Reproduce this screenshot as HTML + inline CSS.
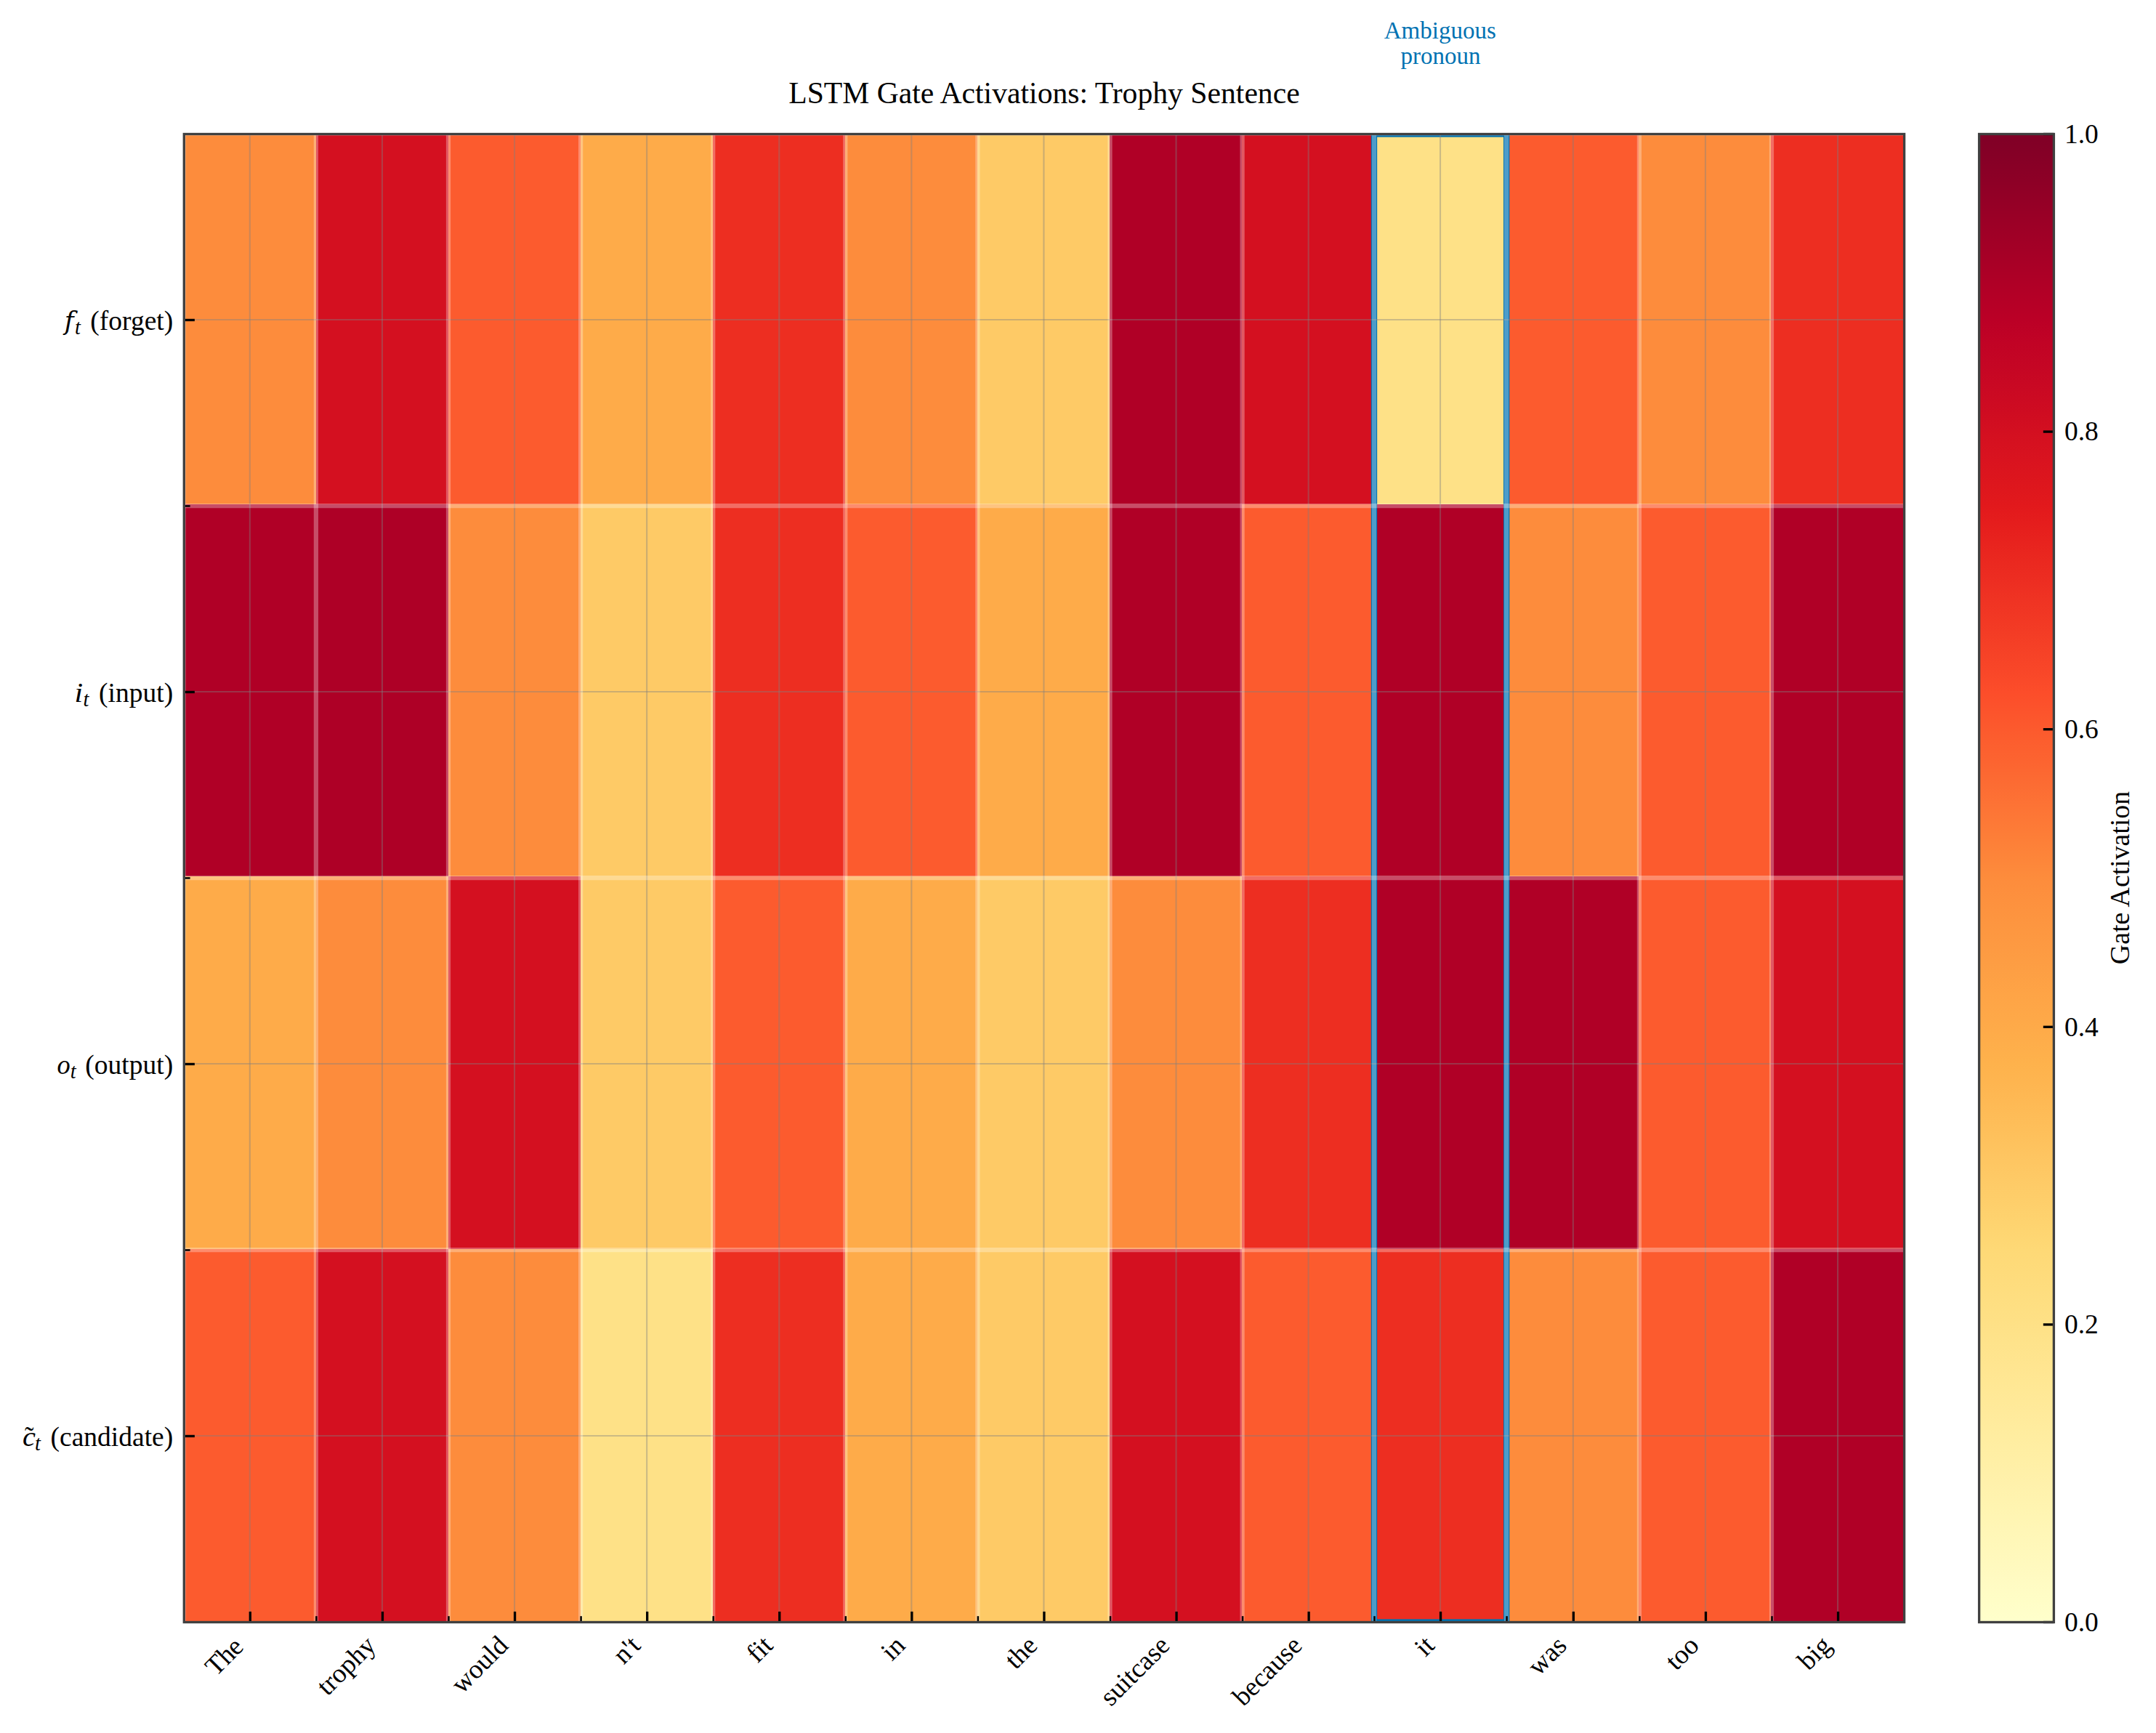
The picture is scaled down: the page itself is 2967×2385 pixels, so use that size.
<!DOCTYPE html>
<html lang="en"><head><meta charset="utf-8"><title>LSTM Gate Activations: Trophy Sentence</title>
<style>html,body{margin:0;padding:0;background:#fff}body{width:2967px;height:2385px;overflow:hidden}svg{display:block}text{font-family:"Liberation Serif","Times New Roman",Times,serif;fill:#000}.b text,text.b{fill:#0072B2}.it{font-style:italic}</style>
</head><body>
<svg width="2967" height="2385" viewBox="0 0 2967 2385">
<defs>
<clipPath id="ax"><rect x="253.30" y="184.50" width="2367.30" height="2048.00"/></clipPath>
<linearGradient id="g" x1="0" y1="0" x2="0" y2="1">
<stop offset="0.0000" stop-color="#800026"/>
<stop offset="0.0156" stop-color="#860026"/>
<stop offset="0.0312" stop-color="#8d0026"/>
<stop offset="0.0469" stop-color="#950026"/>
<stop offset="0.0625" stop-color="#9d0026"/>
<stop offset="0.0781" stop-color="#a40026"/>
<stop offset="0.0938" stop-color="#ac0026"/>
<stop offset="0.1094" stop-color="#b40026"/>
<stop offset="0.1250" stop-color="#bb0026"/>
<stop offset="0.1406" stop-color="#c10325"/>
<stop offset="0.1562" stop-color="#c50624"/>
<stop offset="0.1719" stop-color="#ca0923"/>
<stop offset="0.1875" stop-color="#cf0c21"/>
<stop offset="0.2031" stop-color="#d41020"/>
<stop offset="0.2188" stop-color="#d9131f"/>
<stop offset="0.2344" stop-color="#dd161d"/>
<stop offset="0.2500" stop-color="#e2191c"/>
<stop offset="0.2656" stop-color="#e61f1d"/>
<stop offset="0.2812" stop-color="#e9261f"/>
<stop offset="0.2969" stop-color="#ec2c21"/>
<stop offset="0.3125" stop-color="#ef3323"/>
<stop offset="0.3281" stop-color="#f23924"/>
<stop offset="0.3438" stop-color="#f54026"/>
<stop offset="0.3594" stop-color="#f84628"/>
<stop offset="0.3750" stop-color="#fc4d2a"/>
<stop offset="0.3906" stop-color="#fc552c"/>
<stop offset="0.4062" stop-color="#fc5d2e"/>
<stop offset="0.4219" stop-color="#fc6430"/>
<stop offset="0.4375" stop-color="#fc6c33"/>
<stop offset="0.4531" stop-color="#fd7435"/>
<stop offset="0.4688" stop-color="#fd7c37"/>
<stop offset="0.4844" stop-color="#fd8439"/>
<stop offset="0.5000" stop-color="#fd8c3c"/>
<stop offset="0.5156" stop-color="#fd913e"/>
<stop offset="0.5312" stop-color="#fd9640"/>
<stop offset="0.5469" stop-color="#fd9a42"/>
<stop offset="0.5625" stop-color="#fd9f44"/>
<stop offset="0.5781" stop-color="#fea446"/>
<stop offset="0.5938" stop-color="#fea848"/>
<stop offset="0.6094" stop-color="#fead4a"/>
<stop offset="0.6250" stop-color="#feb24c"/>
<stop offset="0.6406" stop-color="#feb651"/>
<stop offset="0.6562" stop-color="#febb56"/>
<stop offset="0.6719" stop-color="#fec05b"/>
<stop offset="0.6875" stop-color="#fec561"/>
<stop offset="0.7031" stop-color="#feca66"/>
<stop offset="0.7188" stop-color="#fecf6b"/>
<stop offset="0.7344" stop-color="#fed470"/>
<stop offset="0.7500" stop-color="#fed976"/>
<stop offset="0.7656" stop-color="#fedb7b"/>
<stop offset="0.7812" stop-color="#fede80"/>
<stop offset="0.7969" stop-color="#fee085"/>
<stop offset="0.8125" stop-color="#fee38b"/>
<stop offset="0.8281" stop-color="#ffe590"/>
<stop offset="0.8438" stop-color="#ffe895"/>
<stop offset="0.8594" stop-color="#ffea9b"/>
<stop offset="0.8750" stop-color="#ffeda0"/>
<stop offset="0.8906" stop-color="#ffefa5"/>
<stop offset="0.9062" stop-color="#fff1ab"/>
<stop offset="0.9219" stop-color="#fff4b0"/>
<stop offset="0.9375" stop-color="#fff6b6"/>
<stop offset="0.9531" stop-color="#fff8bb"/>
<stop offset="0.9688" stop-color="#fffac1"/>
<stop offset="0.9844" stop-color="#fffdc6"/>
<stop offset="1.0000" stop-color="#ffffcc"/>
</linearGradient>
</defs>
<rect width="2967" height="2385" fill="#fff"/>
<g shape-rendering="crispEdges">
<rect x="253.30" y="184.50" width="182.28" height="510.30" fill="#fd8c3c"/>
<rect x="434.98" y="184.50" width="182.58" height="510.30" fill="#d41020"/>
<rect x="616.96" y="184.50" width="182.58" height="510.30" fill="#fc5b2e"/>
<rect x="798.94" y="184.50" width="182.58" height="510.30" fill="#feab49"/>
<rect x="980.92" y="184.50" width="182.58" height="510.30" fill="#ed2e21"/>
<rect x="1162.90" y="184.50" width="182.58" height="510.30" fill="#fd8c3c"/>
<rect x="1344.88" y="184.50" width="182.58" height="510.30" fill="#feca66"/>
<rect x="1526.86" y="184.50" width="182.58" height="510.30" fill="#b00026"/>
<rect x="1708.84" y="184.50" width="182.58" height="510.30" fill="#d41020"/>
<rect x="1890.82" y="184.50" width="182.58" height="510.30" fill="#fee187"/>
<rect x="2072.80" y="184.50" width="182.58" height="510.30" fill="#fc5b2e"/>
<rect x="2254.78" y="184.50" width="182.58" height="510.30" fill="#fd8c3c"/>
<rect x="2436.76" y="184.50" width="184.44" height="510.30" fill="#ed2e21"/>
<rect x="253.30" y="694.20" width="182.28" height="512.40" fill="#b00026"/>
<rect x="434.98" y="694.20" width="182.58" height="512.40" fill="#ae0026"/>
<rect x="616.96" y="694.20" width="182.58" height="512.40" fill="#fd8c3c"/>
<rect x="798.94" y="694.20" width="182.58" height="512.40" fill="#feca66"/>
<rect x="980.92" y="694.20" width="182.58" height="512.40" fill="#ed2e21"/>
<rect x="1162.90" y="694.20" width="182.58" height="512.40" fill="#fc5b2e"/>
<rect x="1344.88" y="694.20" width="182.58" height="512.40" fill="#feab49"/>
<rect x="1526.86" y="694.20" width="182.58" height="512.40" fill="#b00026"/>
<rect x="1708.84" y="694.20" width="182.58" height="512.40" fill="#fc5b2e"/>
<rect x="1890.82" y="694.20" width="182.58" height="512.40" fill="#b00026"/>
<rect x="2072.80" y="694.20" width="182.58" height="512.40" fill="#fd8c3c"/>
<rect x="2254.78" y="694.20" width="182.58" height="512.40" fill="#fc5b2e"/>
<rect x="2436.76" y="694.20" width="184.44" height="512.40" fill="#b00026"/>
<rect x="253.30" y="1206.00" width="182.28" height="513.70" fill="#feab49"/>
<rect x="434.98" y="1206.00" width="182.58" height="513.70" fill="#fd8c3c"/>
<rect x="616.96" y="1206.00" width="182.58" height="513.70" fill="#d41020"/>
<rect x="798.94" y="1206.00" width="182.58" height="513.70" fill="#feca66"/>
<rect x="980.92" y="1206.00" width="182.58" height="513.70" fill="#fc5b2e"/>
<rect x="1162.90" y="1206.00" width="182.58" height="513.70" fill="#feab49"/>
<rect x="1344.88" y="1206.00" width="182.58" height="513.70" fill="#feca66"/>
<rect x="1526.86" y="1206.00" width="182.58" height="513.70" fill="#fd8c3c"/>
<rect x="1708.84" y="1206.00" width="182.58" height="513.70" fill="#ed2e21"/>
<rect x="1890.82" y="1206.00" width="182.58" height="513.70" fill="#b00026"/>
<rect x="2072.80" y="1206.00" width="182.58" height="513.70" fill="#b00026"/>
<rect x="2254.78" y="1206.00" width="182.58" height="513.70" fill="#fc5b2e"/>
<rect x="2436.76" y="1206.00" width="184.44" height="513.70" fill="#d41020"/>
<rect x="253.30" y="1719.10" width="182.28" height="514.00" fill="#fc5b2e"/>
<rect x="434.98" y="1719.10" width="182.58" height="514.00" fill="#d41020"/>
<rect x="616.96" y="1719.10" width="182.58" height="514.00" fill="#fd8c3c"/>
<rect x="798.94" y="1719.10" width="182.58" height="514.00" fill="#fee187"/>
<rect x="980.92" y="1719.10" width="182.58" height="514.00" fill="#ed2e21"/>
<rect x="1162.90" y="1719.10" width="182.58" height="514.00" fill="#feab49"/>
<rect x="1344.88" y="1719.10" width="182.58" height="514.00" fill="#feca66"/>
<rect x="1526.86" y="1719.10" width="182.58" height="514.00" fill="#d41020"/>
<rect x="1708.84" y="1719.10" width="182.58" height="514.00" fill="#fc5b2e"/>
<rect x="1890.82" y="1719.10" width="182.58" height="514.00" fill="#ed2e21"/>
<rect x="2072.80" y="1719.10" width="182.58" height="514.00" fill="#fd8c3c"/>
<rect x="2254.78" y="1719.10" width="182.58" height="514.00" fill="#fc5b2e"/>
<rect x="2436.76" y="1719.10" width="184.44" height="514.00" fill="#b00026"/>
</g>
<g clip-path="url(#ax)">
<rect x="1891.00" y="184.50" width="182.20" height="2048.00" fill="none" stroke="#0072B2" stroke-width="8.33"/>
<g stroke="#808080" stroke-opacity="0.4" stroke-width="2.1">
<line x1="343.85" y1="184.50" x2="343.85" y2="2232.50"/>
<line x1="525.95" y1="184.50" x2="525.95" y2="2232.50"/>
<line x1="708.05" y1="184.50" x2="708.05" y2="2232.50"/>
<line x1="890.15" y1="184.50" x2="890.15" y2="2232.50"/>
<line x1="1072.25" y1="184.50" x2="1072.25" y2="2232.50"/>
<line x1="1254.35" y1="184.50" x2="1254.35" y2="2232.50"/>
<line x1="1436.45" y1="184.50" x2="1436.45" y2="2232.50"/>
<line x1="1618.55" y1="184.50" x2="1618.55" y2="2232.50"/>
<line x1="1800.65" y1="184.50" x2="1800.65" y2="2232.50"/>
<line x1="1982.05" y1="184.50" x2="1982.05" y2="2232.50"/>
<line x1="2164.85" y1="184.50" x2="2164.85" y2="2232.50"/>
<line x1="2346.95" y1="184.50" x2="2346.95" y2="2232.50"/>
<line x1="2529.05" y1="184.50" x2="2529.05" y2="2232.50"/>
<line x1="253.30" y1="440.00" x2="2620.60" y2="440.00"/>
<line x1="253.30" y1="952.00" x2="2620.60" y2="952.00"/>
<line x1="253.30" y1="1464.00" x2="2620.60" y2="1464.00"/>
<line x1="253.30" y1="1976.00" x2="2620.60" y2="1976.00"/>
</g>
<g stroke="#fff" stroke-opacity="0.3" stroke-width="6.25">
<line x1="252.70" y1="184.50" x2="252.70" y2="2232.50"/>
<line x1="434.90" y1="184.50" x2="434.90" y2="2232.50"/>
<line x1="617.00" y1="184.50" x2="617.00" y2="2232.50"/>
<line x1="799.10" y1="184.50" x2="799.10" y2="2232.50"/>
<line x1="981.20" y1="184.50" x2="981.20" y2="2232.50"/>
<line x1="1163.30" y1="184.50" x2="1163.30" y2="2232.50"/>
<line x1="1345.40" y1="184.50" x2="1345.40" y2="2232.50"/>
<line x1="1527.50" y1="184.50" x2="1527.50" y2="2232.50"/>
<line x1="1709.60" y1="184.50" x2="1709.60" y2="2232.50"/>
<line x1="1891.00" y1="184.50" x2="1891.00" y2="2232.50"/>
<line x1="2073.10" y1="184.50" x2="2073.10" y2="2232.50"/>
<line x1="2255.90" y1="184.50" x2="2255.90" y2="2232.50"/>
<line x1="2438.00" y1="184.50" x2="2438.00" y2="2232.50"/>
<line x1="253.30" y1="183.70" x2="2620.60" y2="183.70"/>
<line x1="253.30" y1="696.00" x2="2620.60" y2="696.00"/>
<line x1="253.30" y1="1208.00" x2="2620.60" y2="1208.00"/>
<line x1="253.30" y1="1720.00" x2="2620.60" y2="1720.00"/>
</g>
</g>
<g stroke="#000" stroke-width="3.33">
<line x1="344.35" y1="2232.50" x2="344.35" y2="2217.92"/>
<line x1="526.45" y1="2232.50" x2="526.45" y2="2217.92"/>
<line x1="708.55" y1="2232.50" x2="708.55" y2="2217.92"/>
<line x1="890.65" y1="2232.50" x2="890.65" y2="2217.92"/>
<line x1="1072.75" y1="2232.50" x2="1072.75" y2="2217.92"/>
<line x1="1254.85" y1="2232.50" x2="1254.85" y2="2217.92"/>
<line x1="1436.95" y1="2232.50" x2="1436.95" y2="2217.92"/>
<line x1="1619.05" y1="2232.50" x2="1619.05" y2="2217.92"/>
<line x1="1801.15" y1="2232.50" x2="1801.15" y2="2217.92"/>
<line x1="1982.55" y1="2232.50" x2="1982.55" y2="2217.92"/>
<line x1="2165.35" y1="2232.50" x2="2165.35" y2="2217.92"/>
<line x1="2347.45" y1="2232.50" x2="2347.45" y2="2217.92"/>
<line x1="2529.55" y1="2232.50" x2="2529.55" y2="2217.92"/>
<line x1="253.30" y1="440.45" x2="267.88" y2="440.45"/>
<line x1="253.30" y1="952.45" x2="267.88" y2="952.45"/>
<line x1="253.30" y1="1464.45" x2="267.88" y2="1464.45"/>
<line x1="253.30" y1="1976.45" x2="267.88" y2="1976.45"/>
</g>
<g stroke="#000" stroke-width="2.50">
<line x1="435.40" y1="2232.50" x2="435.40" y2="2224.17"/>
<line x1="617.50" y1="2232.50" x2="617.50" y2="2224.17"/>
<line x1="799.60" y1="2232.50" x2="799.60" y2="2224.17"/>
<line x1="981.70" y1="2232.50" x2="981.70" y2="2224.17"/>
<line x1="1163.80" y1="2232.50" x2="1163.80" y2="2224.17"/>
<line x1="1345.90" y1="2232.50" x2="1345.90" y2="2224.17"/>
<line x1="1528.00" y1="2232.50" x2="1528.00" y2="2224.17"/>
<line x1="1710.10" y1="2232.50" x2="1710.10" y2="2224.17"/>
<line x1="1891.50" y1="2232.50" x2="1891.50" y2="2224.17"/>
<line x1="2073.60" y1="2232.50" x2="2073.60" y2="2224.17"/>
<line x1="2256.40" y1="2232.50" x2="2256.40" y2="2224.17"/>
<line x1="2438.50" y1="2232.50" x2="2438.50" y2="2224.17"/>
<line x1="253.30" y1="696.45" x2="261.63" y2="696.45"/>
<line x1="253.30" y1="1208.45" x2="261.63" y2="1208.45"/>
<line x1="253.30" y1="1720.45" x2="261.63" y2="1720.45"/>
</g>
<rect x="253.30" y="184.50" width="2367.30" height="2048.00" fill="none" stroke="#404040" stroke-width="3.33"/>
<rect x="2723.60" y="184.50" width="102.80" height="2048.00" fill="url(#g)"/>
<g stroke="#000" stroke-width="3.33">
<line x1="2826.40" y1="2232.50" x2="2811.82" y2="2232.50"/>
<line x1="2826.40" y1="1822.90" x2="2811.82" y2="1822.90"/>
<line x1="2826.40" y1="1413.30" x2="2811.82" y2="1413.30"/>
<line x1="2826.40" y1="1003.70" x2="2811.82" y2="1003.70"/>
<line x1="2826.40" y1="594.10" x2="2811.82" y2="594.10"/>
<line x1="2826.40" y1="184.50" x2="2811.82" y2="184.50"/>
</g>
<rect x="2723.60" y="184.50" width="102.80" height="2048.00" fill="none" stroke="#404040" stroke-width="3.33"/>
<g font-size="37.50">
<text x="2840.98" y="2244.70">0.0</text>
<text x="2840.98" y="1835.10">0.2</text>
<text x="2840.98" y="1425.50">0.4</text>
<text x="2840.98" y="1015.90">0.6</text>
<text x="2840.98" y="606.30">0.8</text>
<text x="2840.98" y="196.70">1.0</text>
</g>
<text font-size="37.80" text-anchor="middle" transform="translate(2930.20,1208.00) rotate(-90)">Gate Activation</text>
<text font-size="41.67" text-anchor="middle" x="1436.95" y="142.00">LSTM Gate Activations: Trophy Sentence</text>
<g class="b" font-size="33.00" text-anchor="middle"><text x="1981.80" y="52.9">Ambiguous</text><text x="1982.60" y="88.1">pronoun</text></g>
<g font-size="37.05" text-anchor="end">
<text transform="translate(336.15,2269.08) rotate(-45)" letter-spacing="-0.9">The</text>
<text transform="translate(519.15,2266.68) rotate(-45)">trophy</text>
<text transform="translate(701.25,2266.68) rotate(-45)">would</text>
<text transform="translate(883.35,2266.68) rotate(-45)">n&#39;t</text>
<text transform="translate(1065.45,2266.68) rotate(-45)">fit</text>
<text transform="translate(1247.55,2266.68) rotate(-45)">in</text>
<text transform="translate(1429.65,2266.68) rotate(-45)">the</text>
<text transform="translate(1611.75,2266.68) rotate(-45)">suitcase</text>
<text transform="translate(1793.85,2266.68) rotate(-45)">because</text>
<text transform="translate(1975.95,2266.68) rotate(-45)">it</text>
<text transform="translate(2158.05,2266.68) rotate(-45)">was</text>
<text transform="translate(2340.15,2266.68) rotate(-45)">too</text>
<text transform="translate(2522.25,2266.68) rotate(-45)">big</text>
</g>
<g font-size="37.50">
<text class="it" style="font-family:'DejaVu Serif','Liberation Serif',serif" font-size="35" x="88.8" y="453.90">f</text>
<text class="it" font-size="28.40" x="102.90" y="459.70">t</text>
<text text-anchor="end" x="238.20" y="453.90">(forget)</text>
</g>
<g font-size="37.50">
<text class="it" transform="translate(102.60,965.90) scale(1.120,1)">i</text>
<text class="it" font-size="28.40" x="114.50" y="971.70">t</text>
<text text-anchor="end" x="238.20" y="965.90">(input)</text>
</g>
<g font-size="37.50">
<text class="it" transform="translate(78.60,1478.20) scale(0.970,1)">o</text>
<text class="it" font-size="28.40" x="96.70" y="1484.00">t</text>
<text text-anchor="end" x="238.20" y="1478.20">(output)</text>
</g>
<g font-size="37.50">
<text class="it" transform="translate(30.90,1989.70) scale(1.080,1)">c</text>
<text x="33.9" y="1990.00">&#732;</text>
<text class="it" font-size="28.40" x="47.90" y="1995.50">t</text>
<text text-anchor="end" x="238.20" y="1989.70">(candidate)</text>
</g>
</svg>
</body></html>
